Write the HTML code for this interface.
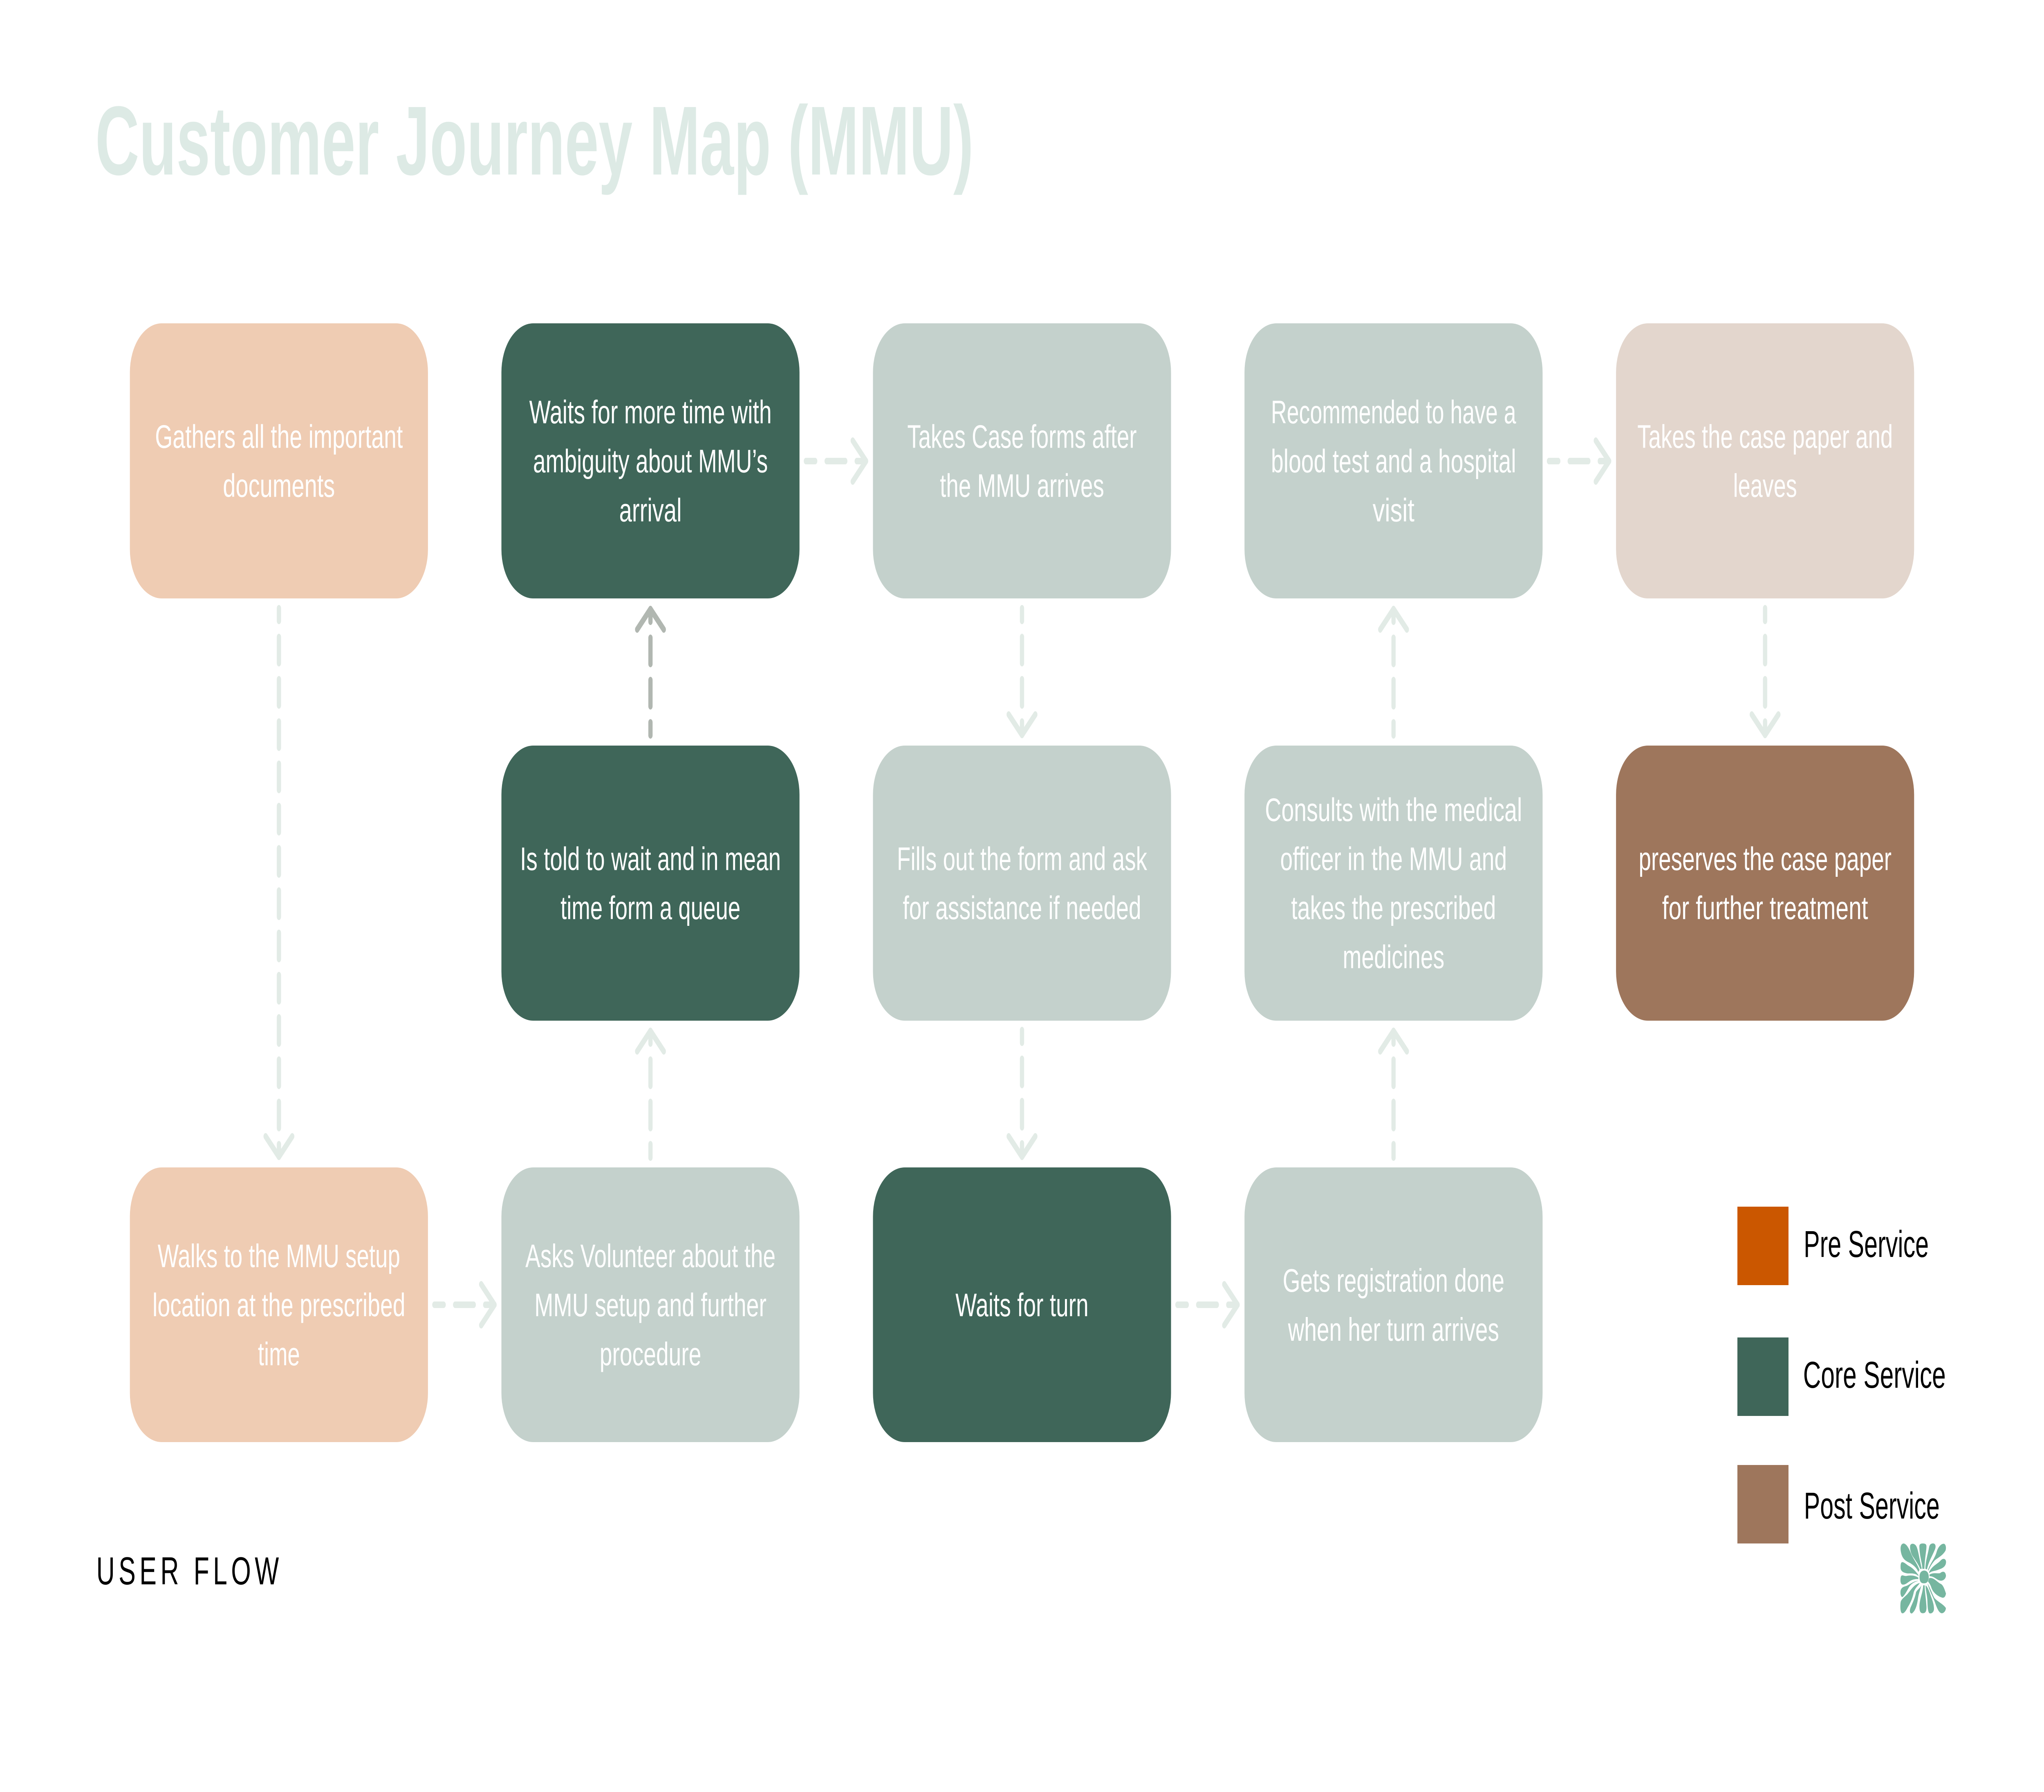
<!DOCTYPE html>
<html lang="en">
<head>
<meta charset="utf-8">
<title>Customer Journey Map (MMU)</title>
<style>
html,body{margin:0;padding:0;background:#fff;width:100%;height:100%;overflow:hidden}
svg{display:block;width:100vw;height:100vh}
text{font-family:"Liberation Sans",sans-serif}
.b text{font-size:80px;fill:#fff;text-anchor:middle}
.a{fill:none;stroke:#E2EBE6;stroke-width:16;stroke-linecap:round;stroke-linejoin:round}
.d{stroke:#B1B7B1}
.v{stroke-dasharray:64 39.4;stroke-dashoffset:33}
.h{stroke-dasharray:70 43;stroke-dashoffset:35}
.l{font-size:92px;fill:#000}
</style>
</head>
<body>
<svg xmlns="http://www.w3.org/2000/svg" viewBox="0 0 7680 4384" preserveAspectRatio="none">
<rect width="7680" height="4384" fill="#fff"/>

<text x="358" y="427" font-size="240" font-weight="700" fill="#DDEAE5" textLength="3300" lengthAdjust="spacingAndGlyphs">Customer Journey Map (MMU)</text>

<!-- boxes -->
<g>
<rect x="488" y="791" width="1120" height="673" rx="120" fill="#EFCCB3"/>
<rect x="1884" y="791" width="1120" height="673" rx="120" fill="#3F6659"/>
<rect x="3280" y="791" width="1120" height="673" rx="120" fill="#C4D1CC"/>
<rect x="4676" y="791" width="1120" height="673" rx="120" fill="#C4D1CC"/>
<rect x="6072" y="791" width="1120" height="673" rx="120" fill="#E3D6CD"/>
<rect x="1884" y="1824" width="1120" height="673" rx="120" fill="#3F6659"/>
<rect x="3280" y="1824" width="1120" height="673" rx="120" fill="#C4D1CC"/>
<rect x="4676" y="1824" width="1120" height="673" rx="120" fill="#C4D1CC"/>
<rect x="6072" y="1824" width="1120" height="673" rx="120" fill="#9E765C"/>
<rect x="488" y="2856" width="1120" height="672" rx="120" fill="#EFCCB3"/>
<rect x="1884" y="2856" width="1120" height="672" rx="120" fill="#C4D1CC"/>
<rect x="3280" y="2856" width="1120" height="672" rx="120" fill="#3F6659"/>
<rect x="4676" y="2856" width="1120" height="672" rx="120" fill="#C4D1CC"/>
</g>

<!-- box text -->
<g class="b">
<text x="1048" y="1095.5" textLength="931" lengthAdjust="spacingAndGlyphs">Gathers all the important</text>
<text x="1048" y="1215.5" textLength="421" lengthAdjust="spacingAndGlyphs">documents</text>

<text x="2444" y="1035.5" textLength="911" lengthAdjust="spacingAndGlyphs">Waits for more time with</text>
<text x="2444" y="1155.5" textLength="882" lengthAdjust="spacingAndGlyphs">ambiguity about MMU’s</text>
<text x="2444" y="1275.5" textLength="235" lengthAdjust="spacingAndGlyphs">arrival</text>

<text x="3840" y="1095.5" textLength="862" lengthAdjust="spacingAndGlyphs">Takes Case forms after</text>
<text x="3840" y="1215.5" textLength="617" lengthAdjust="spacingAndGlyphs">the MMU arrives</text>

<text x="5236" y="1035.5" textLength="921" lengthAdjust="spacingAndGlyphs">Recommended to have a</text>
<text x="5236" y="1155.5" textLength="921" lengthAdjust="spacingAndGlyphs">blood test and a hospital</text>
<text x="5236" y="1275.5" textLength="157" lengthAdjust="spacingAndGlyphs">visit</text>

<text x="6632" y="1095.5" textLength="960" lengthAdjust="spacingAndGlyphs">Takes the case paper and</text>
<text x="6632" y="1215.5" textLength="240" lengthAdjust="spacingAndGlyphs">leaves</text>

<text x="2444" y="2128.5" textLength="980" lengthAdjust="spacingAndGlyphs">Is told to wait and in mean</text>
<text x="2444" y="2248.5" textLength="676" lengthAdjust="spacingAndGlyphs">time form a queue</text>

<text x="3840" y="2128.5" textLength="940" lengthAdjust="spacingAndGlyphs">Fills out the form and ask</text>
<text x="3840" y="2248.5" textLength="896" lengthAdjust="spacingAndGlyphs">for assistance if needed</text>

<text x="5236" y="2008.5" textLength="966" lengthAdjust="spacingAndGlyphs">Consults with the medical</text>
<text x="5236" y="2128.5" textLength="852" lengthAdjust="spacingAndGlyphs">officer in the MMU and</text>
<text x="5236" y="2248.5" textLength="770" lengthAdjust="spacingAndGlyphs">takes the prescribed</text>
<text x="5236" y="2368.5" textLength="382" lengthAdjust="spacingAndGlyphs">medicines</text>

<text x="6632" y="2128.5" textLength="950" lengthAdjust="spacingAndGlyphs">preserves the case paper</text>
<text x="6632" y="2248.5" textLength="774" lengthAdjust="spacingAndGlyphs">for further treatment</text>

<text x="1048" y="3100" textLength="911" lengthAdjust="spacingAndGlyphs">Walks to the MMU setup</text>
<text x="1048" y="3220" textLength="950" lengthAdjust="spacingAndGlyphs">location at the prescribed</text>
<text x="1048" y="3340" textLength="158" lengthAdjust="spacingAndGlyphs">time</text>

<text x="2444" y="3100" textLength="940" lengthAdjust="spacingAndGlyphs">Asks Volunteer about the</text>
<text x="2444" y="3220" textLength="872" lengthAdjust="spacingAndGlyphs">MMU setup and further</text>
<text x="2444" y="3340" textLength="382" lengthAdjust="spacingAndGlyphs">procedure</text>

<text x="3840" y="3220" textLength="500" lengthAdjust="spacingAndGlyphs">Waits for turn</text>

<text x="5236" y="3160" textLength="833" lengthAdjust="spacingAndGlyphs">Gets registration done</text>
<text x="5236" y="3280" textLength="793" lengthAdjust="spacingAndGlyphs">when her turn arrives</text>
</g>

<!-- down arrows -->
<path class="a v" d="M1048 1488V2830"/><path class="a" d="M998 2780L1048 2830L1098 2780"/>
<path class="a v" d="M3840 1488V1798"/><path class="a" d="M3790 1748L3840 1798L3890 1748"/>
<path class="a v" d="M3840 2520V2830"/><path class="a" d="M3790 2780L3840 2830L3890 2780"/>
<path class="a v" d="M6632 1488V1798"/><path class="a" d="M6582 1748L6632 1798L6682 1748"/>

<!-- up arrows -->
<path class="a d v" d="M2444 1490V1799"/><path class="a d" d="M2394 1540L2444 1490L2494 1540"/>
<path class="a v" d="M2444 2522V2832"/><path class="a" d="M2394 2572L2444 2522L2494 2572"/>
<path class="a v" d="M5236 1490V1799"/><path class="a" d="M5186 1540L5236 1490L5286 1540"/>
<path class="a v" d="M5236 2522V2832"/><path class="a" d="M5186 2572L5236 2522L5286 2572"/>

<!-- right arrows -->
<path class="a h" d="M3028 1128H3254"/><path class="a" d="M3204 1078L3254 1128L3204 1178"/>
<path class="a h" d="M5820 1128H6046"/><path class="a" d="M5996 1078L6046 1128L5996 1178"/>
<path class="a h" d="M1632 3192H1858"/><path class="a" d="M1808 3142L1858 3192L1808 3242"/>
<path class="a h" d="M4424 3192H4650"/><path class="a" d="M4600 3142L4650 3192L4600 3242"/>

<!-- legend -->
<rect x="6528" y="2952" width="192" height="192" fill="#CB5700"/>
<rect x="6528" y="3272" width="192" height="192" fill="#3F6659"/>
<rect x="6528" y="3584" width="192" height="192" fill="#9E765C"/>
<text class="l" x="6777" y="3075" textLength="470" lengthAdjust="spacingAndGlyphs">Pre Service</text>
<text class="l" x="6775" y="3395" textLength="536" lengthAdjust="spacingAndGlyphs">Core Service</text>
<text class="l" x="6778" y="3715" textLength="510" lengthAdjust="spacingAndGlyphs">Post Service</text>

<text x="362" y="3876" font-size="96" fill="#000" textLength="686" lengthAdjust="spacing">USER FLOW</text>

<!-- logo -->
<g transform="translate(7100 3750) scale(.33333)" fill="#76B6A0">
<path d="M384 277C420 275 442 295 441 325C441 355 420 372 385 370C350 372 335 350 337 322C337 295 355 279 384 277Z"/>
<path d="M324 287C300 252 268 238 232 222C190 208 140 198 125 132C118 95 135 78 160 78C190 82 215 110 240 150C265 190 312 228 336 272Z"/>
<path d="M346 266C322 228 287 198 258 170C238 148 225 115 232 92C242 76 275 75 298 95C322 120 330 178 362 262Z"/>
<path d="M369 264C367 220 337 172 335 100C335 85 345 78 375 78C405 78 415 85 415 100C415 130 397 180 392 264Z"/>
<path d="M403 264C403 210 430 160 445 105C450 85 470 76 495 78C522 82 525 105 505 130C480 170 440 210 421 268Z"/>
<path d="M433 272C455 225 510 190 532 135C550 100 585 78 612 80C634 84 640 110 630 130C600 165 555 178 512 200C482 220 455 250 437 278Z"/>
<path d="M445 288C478 242 540 228 572 205C597 185 632 185 636 212C636 250 590 262 550 270C510 282 472 278 447 296Z"/>
<path d="M450 306C500 288 540 302 570 295C597 280 630 280 635 315C630 345 590 355 565 350C530 345 500 318 450 318Z"/>
<path d="M445 332C500 325 530 360 578 375C606 385 622 420 635 445C630 470 610 480 590 475C540 465 492 440 472 405C462 382 447 368 433 358Z"/>
<path d="M428 372C465 415 480 450 505 478C540 505 610 525 634 552C634 572 610 592 585 590C550 585 530 545 505 500C485 465 450 425 430 378C429 376 428 374 428 372Z"/>
<path d="M405 386C425 392 445 425 462 458C478 490 502 525 500 562C495 585 470 595 448 590C428 578 428 530 425 490C420 450 405 420 405 386Z"/>
<path d="M378 385L395 385C395 430 410 480 415 540C417 575 405 590 375 590C345 590 335 575 336 535C340 480 375 440 378 385Z"/>
<path d="M358 384C345 420 330 440 320 480C310 530 290 575 250 592C225 592 222 570 238 545C262 510 290 470 298 435C318 412 345 405 358 384Z"/>
<path d="M340 368C320 390 290 402 272 435C262 470 240 510 205 545C185 572 160 595 140 590C118 585 118 530 125 505C135 485 170 470 200 450C240 420 275 378 340 368Z"/>
<path d="M325 352C285 358 250 370 222 395C200 420 165 465 142 472C120 465 118 430 128 415C145 395 165 395 195 388C235 375 275 352 325 352Z"/>
<path d="M323 328C280 312 240 310 190 316C160 320 135 300 125 325C118 350 122 378 148 380C180 382 200 365 240 350C270 340 300 338 323 340Z"/>
<path d="M325 310C290 280 265 262 230 248C190 235 170 215 140 215C122 218 122 245 125 265C135 290 175 295 205 298C245 298 290 295 322 316Z"/>
</g>
</svg>
</body>
</html>
